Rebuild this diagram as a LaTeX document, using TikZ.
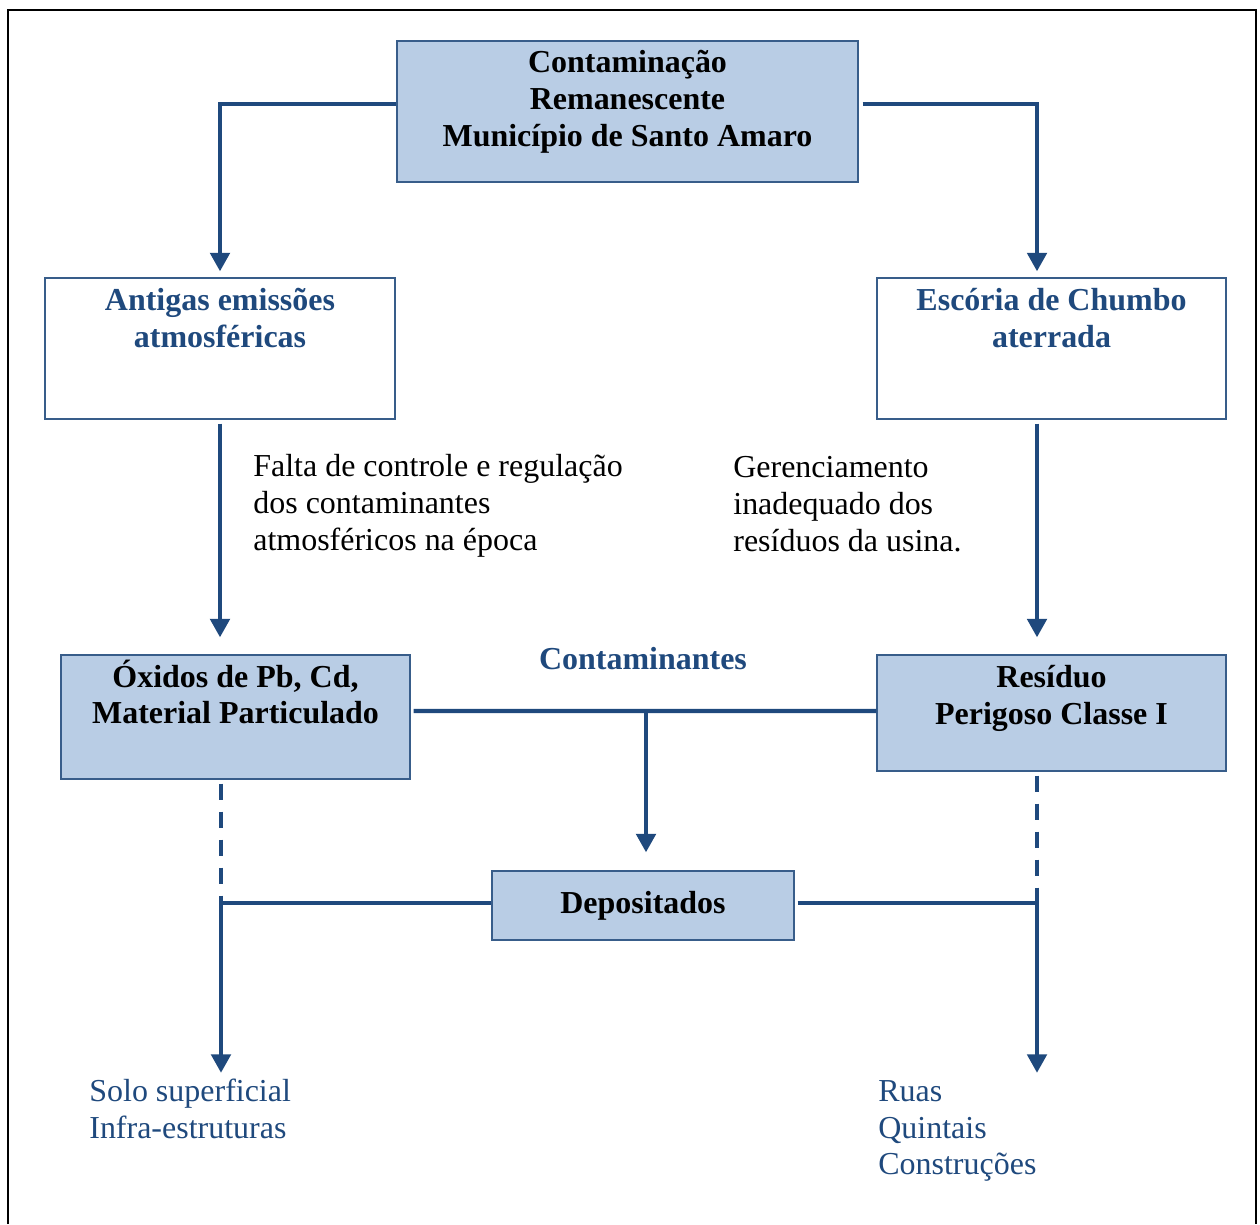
\documentclass[tikz,border=0pt]{standalone}
\usepackage{fontspec}
\setmainfont{Liberation Serif}
\usepackage{xcolor}
\usetikzlibrary{arrows.meta}
\definecolor{linha}{HTML}{1F497D}
\definecolor{caixa}{HTML}{B9CDE5}
\definecolor{borda}{HTML}{385D8A}
\definecolor{azul}{HTML}{1F497D}

\begin{document}
\begin{tikzpicture}[x=0.02cm, y=-0.02cm,
    every node/.style={font=\fontsize{18.2}{21}\selectfont},
    box/.style={draw=borda, line width=0.8pt, inner sep=0pt},
    filled/.style={box, fill=caixa},
    txt/.style={inner sep=0pt, align=center},
    bold/.style={font=\fontsize{18.2}{21}\selectfont\bfseries},
    flow/.style={draw=linha, line width=2.3pt},
    arr/.style={flow, -{Triangle[width=11pt, length=10.5pt]}}]
\useasboundingbox (0,0) rectangle (1260,1224);
% moldura
\draw[line width=1.2pt] (8,1224) -- (8,10) -- (1256,10) -- (1256,1224);

% === caixas ===
\node[filled, minimum width=9.22cm, minimum height=2.82cm] (topo) at (627.5,111.5) {};
\node[txt, bold] (topotxt) at (627.5,102) {Contaminação\\Remanescente\\Município de Santo Amaro};

\node[box, minimum width=7cm, minimum height=2.82cm] (antigas) at (220,348.5) {};
\node[txt, bold, text=azul] (antigastxt) at (220,318) {Antigas emissões\\atmosféricas};

\node[box, minimum width=6.98cm, minimum height=2.82cm] (escoria) at (1051.5,348.5) {};
\node[txt, bold, text=azul] (escoriatxt) at (1051.5,318) {Escória de Chumbo\\aterrada};

\node[filled, minimum width=6.98cm, minimum height=2.48cm] (oxidos) at (235.5,717) {};
\node[txt, bold] (oxidostxt) at (235.5,692) {Óxidos de Pb, Cd,\\Material Particulado};

\node[filled, minimum width=6.98cm, minimum height=2.32cm] (residuo) at (1051.5,713) {};
\node[txt, bold] (residuotxt) at (1051.5,698) {Resíduo\\Perigoso Classe I};

\node[filled, bold, minimum width=6.04cm, minimum height=1.38cm] (depositados) at (643,905.5) {Depositados};

% === textos soltos ===
\node[txt, align=left, anchor=west] (falta) at (253,506) {Falta de controle e regulação\\dos contaminantes\\atmosféricos na época};
\node[txt, align=left, anchor=west] (gerenc) at (733,504) {Gerenciamento\\inadequado dos\\resíduos da usina.};
\node[txt, bold, text=azul] (contam) at (643,659) {Contaminantes};
\node[txt, text=azul, align=left, anchor=west] (solo) at (89,1109) {Solo superficial\\Infra-estruturas};
\node[txt, text=azul, align=left, anchor=west] (ruas) at (878,1131) {Ruas\\Quintais\\Construções};

% === conectores ===
\coordinate (meio) at (646,711);
\coordinate (jl) at (221,903);
\coordinate (jr) at (1037,903);

\draw[arr] ([yshift=0.15cm]topo.west) -| ([yshift=0.12cm]antigas.north);
\draw[arr] ([xshift=0.08cm,yshift=0.15cm]topo.east) -| ([xshift=-0.29cm,yshift=0.12cm]escoria.north);
\draw[arr] ([yshift=-0.08cm]antigas.south) -- ([yshift=0.34cm]antigas.south |- oxidos.north);
\draw[arr] ([xshift=-0.29cm,yshift=-0.08cm]escoria.south) -- ([xshift=-0.29cm,yshift=0.34cm]residuo.north);

\draw[flow] ([xshift=0.06cm,yshift=0.12cm]oxidos.east) -- ([yshift=0.04cm]residuo.west);
\draw[arr] (meio) -- ([yshift=0.36cm]meio |- depositados.north);

\draw[flow, dash pattern=on 0.32cm off 0.24cm] ([yshift=-0.08cm]jl |- oxidos.south) -- (jl);
\draw[flow, dash pattern=on 0.32cm off 0.24cm] ([yshift=-0.08cm]jr |- residuo.south) -- (jr);
\draw[flow] (jl) -- (jl -| depositados.west);
\draw[flow] ([xshift=0.06cm]jr -| depositados.east) -- (jr);
\draw[arr] (jl) -- ([yshift=0.12cm]jl |- solo.north);
\draw[arr] (jr) -- ([yshift=0.12cm]jr |- solo.north);
\end{tikzpicture}
\end{document}
